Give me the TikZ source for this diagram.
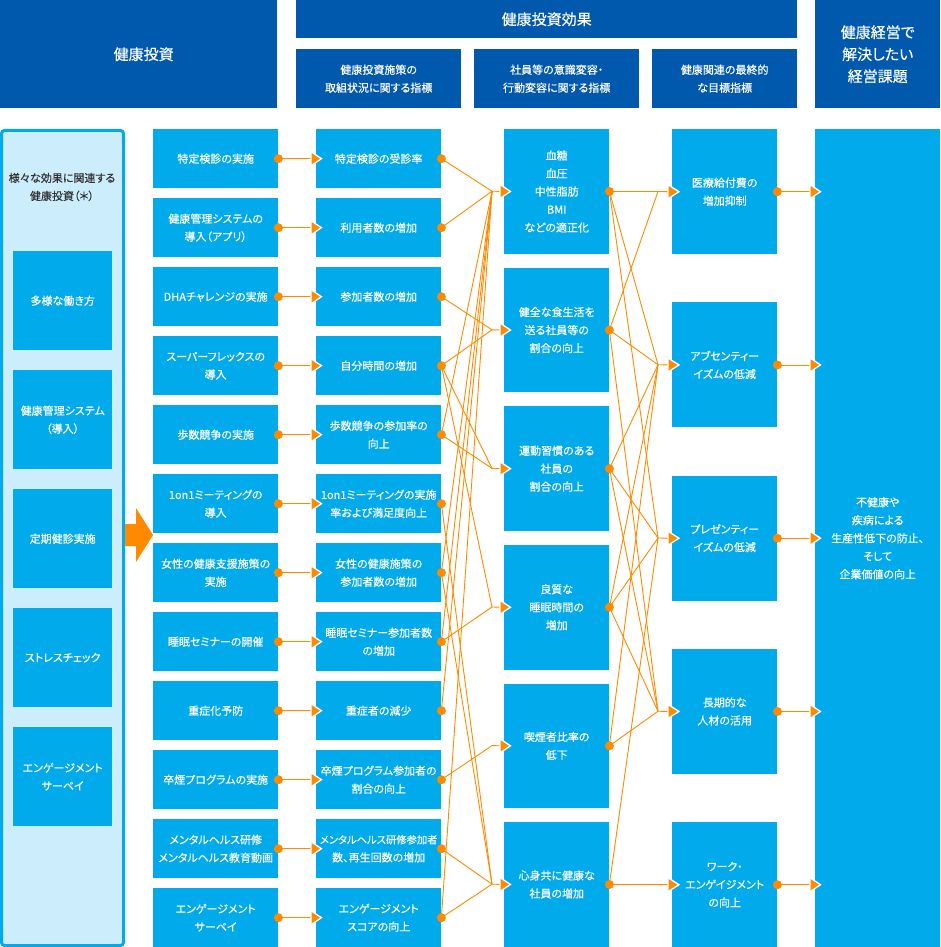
\documentclass[tikz,border=0pt]{standalone}
\usepackage{fontspec}
\setmainfont{Noto Sans CJK JP}[RawFeature=+palt,FakeBold=0.35]
\usetikzlibrary{calc}
\definecolor{hdr}{HTML}{0059AC}
\definecolor{bx}{HTML}{00AAEB}
\definecolor{pnl}{HTML}{CCEEFC}
\definecolor{org}{HTML}{FF8A00}
\definecolor{txtd}{HTML}{333333}
\begin{document}
\begin{tikzpicture}[x=1pt,y=-1pt,
  hbox/.style={fill=hdr,text=white,inner sep=0,anchor=north west,align=center,font=\fontsize{11}{18}\selectfont},
  bbox/.style={fill=bx,text=white,inner sep=0,anchor=north west,align=center,font=\fontsize{11}{18}\selectfont},
  ol/.style={draw=org,line width=0.9pt},
  dotc/.style={fill=org}]
\useasboundingbox (0,0) rectangle (940,947);
% headers
\node[hbox,minimum width=277,minimum height=108,font=\fontsize{15}{22}\selectfont] (h1) at (0,0) {\hspace*{10pt}健康投資};
\node[hbox,minimum width=501,minimum height=38,font=\fontsize{15}{22}\selectfont] (h2) at (296,0) {健康投資効果};
\node[hbox,minimum width=165,minimum height=59] (h3) at (296,49) {健康投資施策の\\取組状況に関する指標};
\node[hbox,minimum width=165,minimum height=59] (h4) at (474,49) {社員等の意識変容・\\行動変容に関する指標};
\node[hbox,minimum width=145,minimum height=59] (h5) at (652,49) {健康関連の最終的\\な目標指標};
\node[hbox,minimum width=125,minimum height=108,font=\fontsize{15}{22}\selectfont] (h6) at (815,0) {健康経営で\\解決したい\\経営課題};
% left panel
\draw[draw=bx,fill=pnl,line width=3pt,rounded corners=3pt] (1.5,130.5) rectangle (123.5,945.5);
\node[align=center,inner sep=0,font=\fontsize{11}{18}\selectfont,text=txtd] (ltxt) at (62,187) {様々な効果に関連する\\健康投資（＊）};
\foreach \t [count=\i from 0] in {多様な働き方,健康管理システム\\（導入）,定期健診実施,ストレスチェック,エンゲージメント\\サーベイ}{
  \node[bbox,minimum width=99,minimum height=99] (l\i) at (13,251+119*\i) {\t};
}
% big arrow
\fill[org] (125,524) -- (136,524) -- (136,508) -- (153,535) -- (136,562) -- (136,546) -- (125,546) -- cycle;
% column A
\foreach \t [count=\i] in {特定検診の実施,健康管理システムの\\導入（アプリ）,DHAチャレンジの実施,スーパーフレックスの\\導入,歩数競争の実施,1on1ミーティングの\\導入,女性の健康支援施策の\\実施,睡眠セミナーの開催,重症化予防,卒煙プログラムの実施,メンタルヘルス研修\\メンタルヘルス教育動画,エンゲージメント\\サーベイ}{
  \node[bbox,minimum width=125,minimum height=59] (a\i) at (153,{129+69*(\i-1)}) {\t};
}
% column B
\foreach \t [count=\i] in {特定検診の受診率,利用者数の増加,参加者数の増加,自分時間の増加,歩数競争の参加率の\\向上,1on1ミーティングの実施\\率および満足度向上,女性の健康施策の\\参加者数の増加,睡眠セミナー参加者数\\の増加,重症者の減少,卒煙プログラム参加者の\\割合の向上,{\fontsize{10.3}{18}\selectfont メンタルヘルス研修参加者}\\数、再生回数の増加,エンゲージメント\\スコアの向上}{
  \node[bbox,minimum width=125,minimum height=59] (b\i) at (316,{129+69*(\i-1)}) {\t};
}
% column C
\foreach \t [count=\i] in {血糖\\血圧\\中性脂肪\\BMI\\などの適正化,健全な食生活を\\送る社員等の\\割合の向上,運動習慣のある\\社員の\\割合の向上,良質な\\睡眠時間の\\増加,喫煙者比率の\\低下,心身共に健康な\\社員の増加}{
  \node[bbox,minimum width=105,minimum height=124.5] (c\i) at (504,{129+138.6*(\i-1)}) {\t};
  \coordinate (jc\i) at (492,{191.2+138.6*(\i-1)});
}
% column D
\foreach \t [count=\i] in {医療給付費の\\増加抑制,アブセンティー\\イズムの低減,プレゼンティー\\イズムの低減,長期的な\\人材の活用,ワーク・\\エンゲイジメント\\の向上}{
  \node[bbox,minimum width=105,minimum height=125] (d\i) at (672,{129+173.25*(\i-1)}) {\t};
  \coordinate (jd\i) at (658,{191.5+173.25*(\i-1)});
}
% column E
\node[bbox,minimum width=125,minimum height=818] (e1) at (815,129) {不健康や\\疾病による\\生産性低下の防止、\\そして\\企業価値の向上};
% A -> B
\foreach \i in {1,...,12}{
  \draw[ol] (a\i.east) -- (b\i.west);
  \fill[org,draw=white,line width=1.3pt] ($(b\i.west)+(-5,-7)$) -- ($(b\i.west)+(5.5,0)$) -- ($(b\i.west)+(-5,7)$) -- cycle;
  \fill[dotc] (a\i.east) circle (4.5);
}
% B -> C
\foreach \s/\t in {1/1,2/1,3/2,4/2,4/3,4/4,5/3,5/1,6/6,7/1,7/6,8/1,8/4,9/1,10/5,11/6,12/6,12/1}{
  \draw[ol] (b\s.east) -- (jc\t);
}
% C -> D
\foreach \s/\t in {1/1,1/2,1/3,2/1,2/2,2/4,3/2,3/3,3/4,4/2,4/3,4/4,5/2,5/4,6/3,6/5}{
  \draw[ol] (c\s.east) -- (jd\t);
}
\foreach \i in {1,...,6}{
  \draw[ol] (jc\i) -- (c\i.west);
  \fill[org,draw=white,line width=1.3pt] ($(c\i.west)+(-4,-7)$) -- ($(c\i.west)+(6.5,0)$) -- ($(c\i.west)+(-4,7)$) -- cycle;
  \fill[dotc] (c\i.east) circle (4.5);
}
\foreach \i in {1,...,12}{ \fill[dotc] (b\i.east) circle (4.5); }
% D -> E
\foreach \i in {1,...,5}{
  \draw[ol] (jd\i) -- (d\i.west);
  \fill[org,draw=white,line width=1.3pt] ($(d\i.west)+(-4,-7)$) -- ($(d\i.west)+(7,0)$) -- ($(d\i.west)+(-4,7)$) -- cycle;
  \draw[ol] (d\i.east) -- (e1.west |- d\i.east);
  \fill[org,draw=white,line width=1.3pt] ($(e1.west |- d\i.east)+(-5,-7)$) -- ($(e1.west |- d\i.east)+(5.5,0)$) -- ($(e1.west |- d\i.east)+(-5,7)$) -- cycle;
  \fill[dotc] (d\i.east) circle (4.5);
}
\end{tikzpicture}
\end{document}
